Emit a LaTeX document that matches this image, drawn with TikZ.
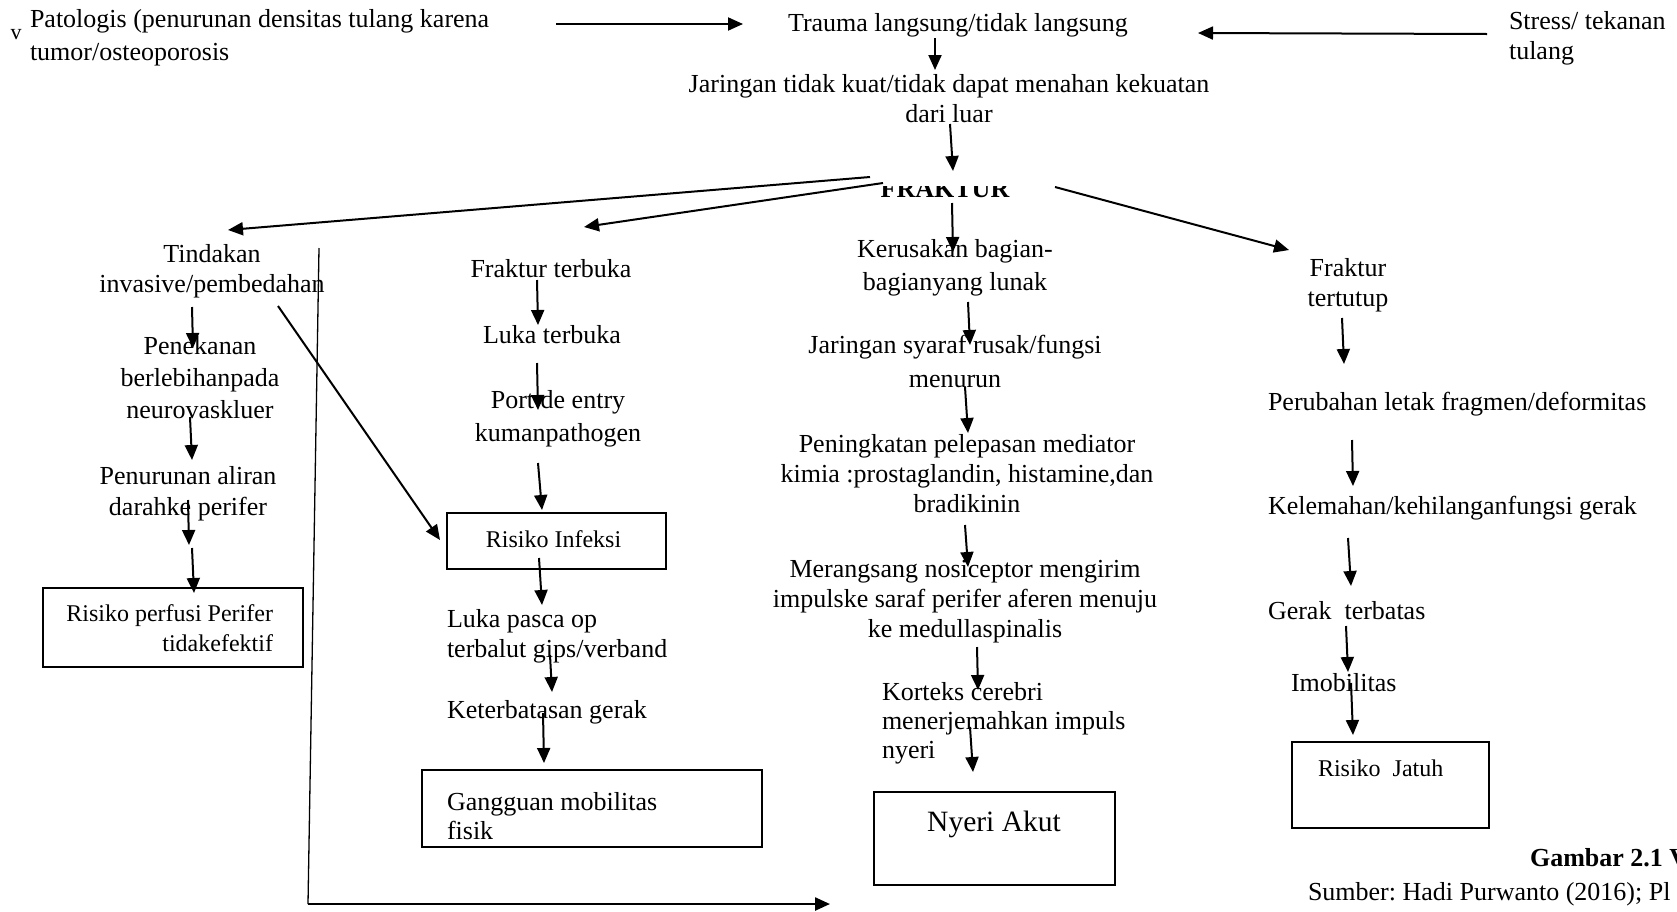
\documentclass[tikz,border=0pt]{standalone}
\usepackage{fontspec}
\setmainfont{Liberation Serif}
\usetikzlibrary{arrows.meta}
\frenchspacing
\tikzset{
  txt/.style={inner sep=0pt, outer sep=0pt, font=\fontsize{26}{30}\selectfont},
  sm/.style={inner sep=0pt, outer sep=0pt, font=\fontsize{24}{29}\selectfont},
  arr/.style={line width=2pt, -{Triangle[length=15pt,width=13pt]}},
  thin line/.style={line width=1.3pt},
  boxs/.style={draw, line width=2pt, inner sep=0pt, outer sep=0pt},
}
\begin{document}
\begin{tikzpicture}[x=1pt,y=-1pt]
\useasboundingbox (0,0) rectangle (1677,911);
\fill[white] (0,0) rectangle (1677,911);
\clip (0,0) rectangle (1677,911);

% ---------- top row ----------
\node[inner sep=0pt, font=\fontsize{22}{26}\selectfont, anchor=base] (v) at (16,39) {v};
\node[txt, anchor=base west, align=left, font=\fontsize{26}{33}\selectfont] (pat) at (30,60)
  {Patologis (penurunan densitas tulang karena\\tumor/osteoporosis};
\node[txt, anchor=base] (trauma) at (958,31) {Trauma langsung/tidak langsung};
\node[txt, anchor=base west, align=left] (stress) at (1509,59) {Stress/ tekanan\\tulang};
\node[txt, anchor=base, align=center] (jar) at (949,122)
  {Jaringan tidak kuat/tidak dapat menahan kekuatan\\dari luar};
\begin{scope}
  \clip (860,186) rectangle (1030,205);
  \node[txt, anchor=base, font=\fontsize{26}{30}\selectfont\bfseries] (fraktur) at (945,197) {FRAKTUR};
\end{scope}

% ---------- left column ----------
\node[txt, anchor=base, align=center] (tind) at (212,292) {Tindakan\\invasive/pembedahan};
\node[txt, anchor=base, align=center, font=\fontsize{26}{32}\selectfont] (pen) at (200,418)
  {Penekanan\\berlebihanpada\\neurovaskluer};
\node[txt, anchor=base, align=center, font=\fontsize{26}{31}\selectfont] (turun) at (188,515)
  {Penurunan aliran\\darahke perifer};
\node[boxs, minimum width=260pt, minimum height=79pt] (bperf) at (173,627.5) {};
\node[sm, anchor=base east, align=right, font=\fontsize{24}{30}\selectfont] (tperf) at (273,651)
  {Risiko perfusi Perifer\\tidakefektif};

% ---------- second column ----------
\node[txt, anchor=base] (fterb) at (551,277) {Fraktur terbuka};
\node[txt, anchor=base] (luka) at (552,343) {Luka terbuka};
\node[txt, anchor=base, align=center, font=\fontsize{26}{33}\selectfont] (port) at (558,441)
  {Port de entry\\kumanpathogen};
\node[boxs, minimum width=219pt, minimum height=56pt] (binf) at (556.5,541) {};
\node[sm, anchor=base] (tinf) at (553.5,547) {Risiko Infeksi};
\node[txt, anchor=base west, align=left] (lukaop) at (447,657) {Luka pasca op\\terbalut gips/verband};
\node[txt, anchor=base west] (keterb) at (447,718) {Keterbatasan gerak};
\node[boxs, line width=1.6pt, minimum width=340pt, minimum height=77pt] (bgang) at (592,808.5) {};
\node[txt, anchor=base west, align=left, font=\fontsize{26}{29}\selectfont] (tgang) at (447,839)
  {Gangguan mobilitas\\fisik};

% ---------- centre column ----------
\node[txt, anchor=base, align=center, font=\fontsize{26}{33}\selectfont] (kerus) at (955,290)
  {Kerusakan bagian-\\bagianyang lunak};
\node[txt, anchor=base, align=center, font=\fontsize{26}{34}\selectfont] (syaraf) at (955,387)
  {Jaringan syaraf rusak/fungsi\\menurun};
\node[txt, anchor=base, align=center] (medi) at (967,512)
  {Peningkatan pelepasan mediator\\kimia :prostaglandin, histamine,dan\\bradikinin};
\node[txt, anchor=base, align=center] (noci) at (965,637)
  {Merangsang nosiceptor mengirim\\impulske saraf perifer aferen menuju\\ke medullaspinalis};
\node[txt, anchor=base west, align=left, font=\fontsize{26}{29}\selectfont] (korteks) at (882,758)
  {Korteks cerebri\\menerjemahkan impuls\\nyeri};
\node[boxs, minimum width=241pt, minimum height=93pt] (bnyeri) at (994.5,838.5) {};
\node[inner sep=0pt, anchor=base, font=\fontsize{29.5}{34}\selectfont] (tnyeri) at (994,831) {Nyeri Akut};

% ---------- right column ----------
\node[txt, anchor=base, align=center] (ftut) at (1348,306) {Fraktur\\tertutup};
\node[txt, anchor=base west] (perub) at (1268,410) {Perubahan letak fragmen/deformitas};
\node[txt, anchor=base west] (lemah) at (1268,514) {Kelemahan/kehilanganfungsi gerak};
\node[txt, anchor=base west] (gerak) at (1268,619) {Gerak~ terbatas};
\node[txt, anchor=base west] (imob) at (1291,691) {Imobilitas};
\node[boxs, minimum width=197pt, minimum height=86pt] (bjatuh) at (1390.5,785) {};
\node[sm, anchor=base west] (tjatuh) at (1318,776) {Risiko~ Jatuh};
\node[txt, anchor=base west, font=\fontsize{26}{30}\selectfont\bfseries] (gambar) at (1530,866) {Gambar 2.1 V};
\node[txt, anchor=base west] (sumber) at (1308,900) {Sumber: Hadi Purwanto (2016); Pl};

% ---------- connector end points ----------
\coordinate (p1s) at (556,24);   \coordinate (p1e) at (743,24);
\coordinate (p2s) at (1487,34);  \coordinate (p2e) at (1198,33);
\coordinate (p3s) at (935,38);   \coordinate (p3e) at (935,70);
\coordinate (p4s) at (950,124);  \coordinate (p4e) at (953,171);
\coordinate (p5s) at (870,177);  \coordinate (p5e) at (228,230);
\coordinate (p6s) at (883,183);  \coordinate (p6e) at (584,227);
\coordinate (p7s) at (952,203);  \coordinate (p7e) at (953,252);
\coordinate (p8s) at (1055,187); \coordinate (p8e) at (1289,250);
\coordinate (l1s) at (192,307);  \coordinate (l1e) at (193,348);
\coordinate (l2s) at (190,417);  \coordinate (l2e) at (192,460);
\coordinate (l3s) at (188,500);  \coordinate (l3e) at (189,545);
\coordinate (l4s) at (192,548);  \coordinate (l4e) at (194,593);
\coordinate (dgs) at (278,306);  \coordinate (dge) at (440,540);
\coordinate (vls) at (319,248);  \coordinate (vlc) at (308,904); \coordinate (vle) at (830,904);
\coordinate (m1s) at (537,280);  \coordinate (m1e) at (538,325);
\coordinate (m2s) at (537,363);  \coordinate (m2e) at (538,410);
\coordinate (m3s) at (538,463);  \coordinate (m3e) at (542,510);
\coordinate (m4s) at (539,558);  \coordinate (m4e) at (542,605);
\coordinate (m5s) at (550,655);  \coordinate (m5e) at (552,692);
\coordinate (m6s) at (543,713);  \coordinate (m6e) at (544,763);
\coordinate (c1s) at (968,302);  \coordinate (c1e) at (970,345);
\coordinate (c2s) at (965,387);  \coordinate (c2e) at (968,433);
\coordinate (c3s) at (965,525);  \coordinate (c3e) at (968,567);
\coordinate (c4s) at (977,647);  \coordinate (c4e) at (978,690);
\coordinate (c5s) at (970,727);  \coordinate (c5e) at (973,772);
\coordinate (r1s) at (1342,318); \coordinate (r1e) at (1344,364);
\coordinate (r2s) at (1352,440); \coordinate (r2e) at (1353,486);
\coordinate (r3s) at (1348,538); \coordinate (r3e) at (1351,586);
\coordinate (r4s) at (1346,626); \coordinate (r4e) at (1348,672);
\coordinate (r5s) at (1351,683); \coordinate (r5e) at (1353,735);

% ---------- connectors ----------
\draw[arr] (p1s) -- (p1e);
\draw[arr] (p2s) -- (p2e);
\draw[arr] (p3s) -- (p3e);
\draw[arr] (p4s) -- (p4e);
\draw[arr] (p5s) -- (p5e);
\draw[arr] (p6s) -- (p6e);
\draw[arr] (p7s) -- (p7e);
\draw[arr] (p8s) -- (p8e);
\draw[arr] (l1s) -- (l1e);
\draw[arr] (l2s) -- (l2e);
\draw[arr] (l3s) -- (l3e);
\draw[arr] (l4s) -- (l4e);
\draw[arr] (dgs) -- (dge);
\draw[thin line] (vls) -- (vlc);
\draw[arr, line width=2.4pt] (vlc) -- (vle);
\draw[arr] (m1s) -- (m1e);
\draw[arr] (m2s) -- (m2e);
\draw[arr] (m3s) -- (m3e);
\draw[arr] (m4s) -- (m4e);
\draw[arr] (m5s) -- (m5e);
\draw[arr] (m6s) -- (m6e);
\draw[arr] (c1s) -- (c1e);
\draw[arr] (c2s) -- (c2e);
\draw[arr] (c3s) -- (c3e);
\draw[arr] (c4s) -- (c4e);
\draw[arr] (c5s) -- (c5e);
\draw[arr] (r1s) -- (r1e);
\draw[arr] (r2s) -- (r2e);
\draw[arr] (r3s) -- (r3e);
\draw[arr] (r4s) -- (r4e);
\draw[arr] (r5s) -- (r5e);
\end{tikzpicture}
\end{document}
